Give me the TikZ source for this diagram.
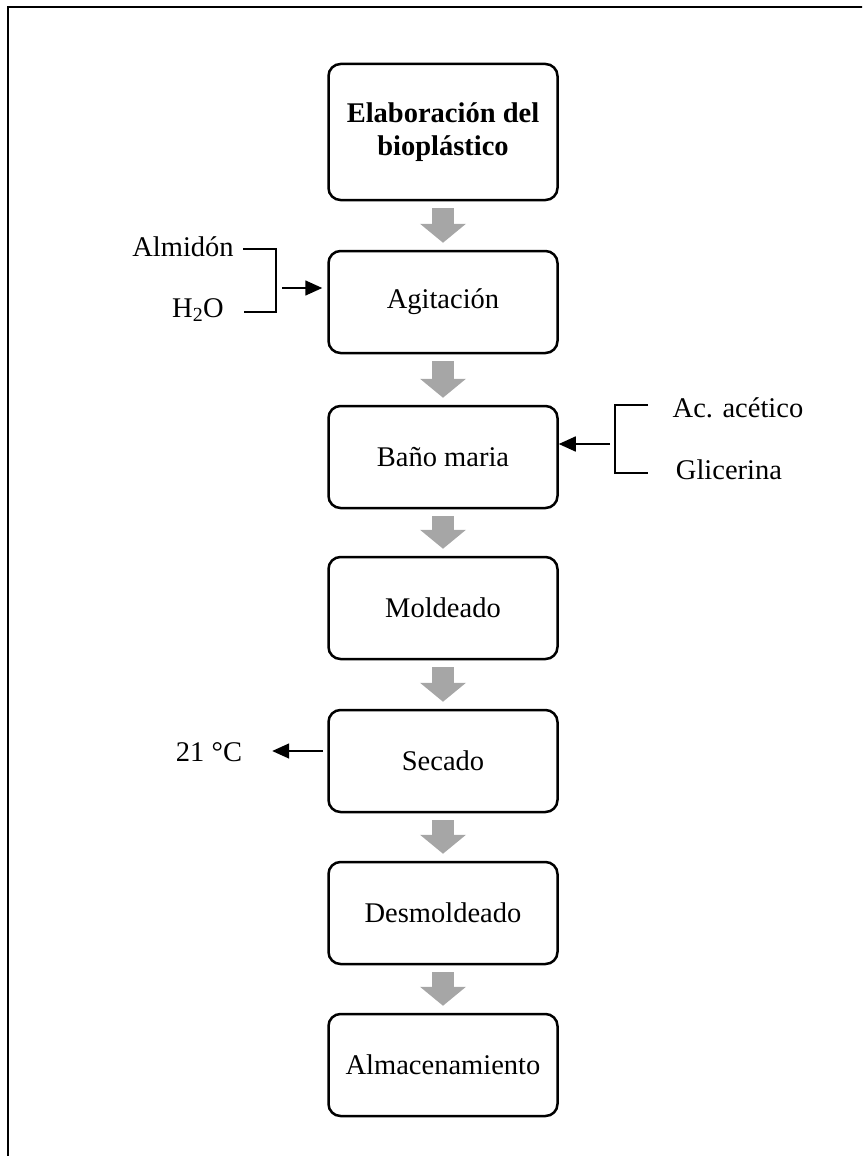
\documentclass[tikz,border=0pt]{standalone}
\usepackage{fontspec}
\setmainfont{Liberation Serif}
\usetikzlibrary{arrows.meta}
\definecolor{arrowgray}{RGB}{166,166,166}

\begin{document}
\begin{tikzpicture}[x=1pt,y=-1pt,
	stepbox/.style={draw,line width=2.5pt,rounded corners=12pt,minimum width=229pt,minimum height=102pt,align=center,font=\fontsize{28.5}{33}\selectfont},
	label/.style={font=\fontsize{28.5}{33}\selectfont,inner sep=0pt},
	flow/.style={arrowgray,line width=22pt,-{Triangle[width=45pt,length=19pt]},shorten <=7pt,shorten >=7pt},
	feed/.style={line width=1.6pt,-{Triangle[width=15pt,length=17pt]}},
	brace/.style={line width=1.6pt}]
	\clip (0,0) rectangle (862,1156);
	\draw [line width=2pt] (8,1170) -- (8,7) -- (880,7);
	\node at (443,132) [stepbox,minimum height=136pt] (s0) {\textbf{Elaboración del}\\\textbf{bioplástico}};
	\node at (443,302) [stepbox] (s1) {Agitación};
	\node at (443,457) [stepbox] (s2) {Baño maria};
	\node at (443,608) [stepbox] (s3) {Moldeado};
	\node at (443,761) [stepbox] (s4) {Secado};
	\node at (443,913) [stepbox] (s5) {Desmoldeado};
	\node at (443,1065) [stepbox] (s6) {Almacenamiento};
	\draw [flow] (s0) -- (s1);
	\draw [flow] (s1) -- (s2);
	\draw [flow] (s2) -- (s3);
	\draw [flow] (s3) -- (s4);
	\draw [flow] (s4) -- (s5);
	\draw [flow] (s5) -- (s6);
	% left inputs
	\node at (183,247) [label] (almidon) {Almidón};
	\node at (198,310) [label] (agua) {H\textsubscript{2}O};
	\coordinate (b1) at (276,249);
	\coordinate (b2) at (276,312);
	\coordinate (b3) at (282,288);
	\draw [brace] (243,249) -- (b1) -- (b2) -- (244,312);
	\draw [feed,shorten >=5pt] (b3) -- (b3 -| s1.west);
	% right inputs
	\node at (738,408) [label] (acido) {Ac. acético};
	\node at (729,470) [label] (glicerina) {Glicerina};
	\coordinate (c1) at (615,405);
	\coordinate (c2) at (615,473);
	\coordinate (c3) at (610,444);
	\draw [brace] (648,405) -- (c1) -- (c2) -- (648,473);
	\draw [feed] (c3) -- (c3 -| s2.east);
	% drying temperature
	\node at (209,752) [label] (temp) {21 °C};
	\coordinate (d1) at (323,751);
	\draw [feed,shorten >=30pt] (d1) -- (d1 -| temp.east);
\end{tikzpicture}
\end{document}
